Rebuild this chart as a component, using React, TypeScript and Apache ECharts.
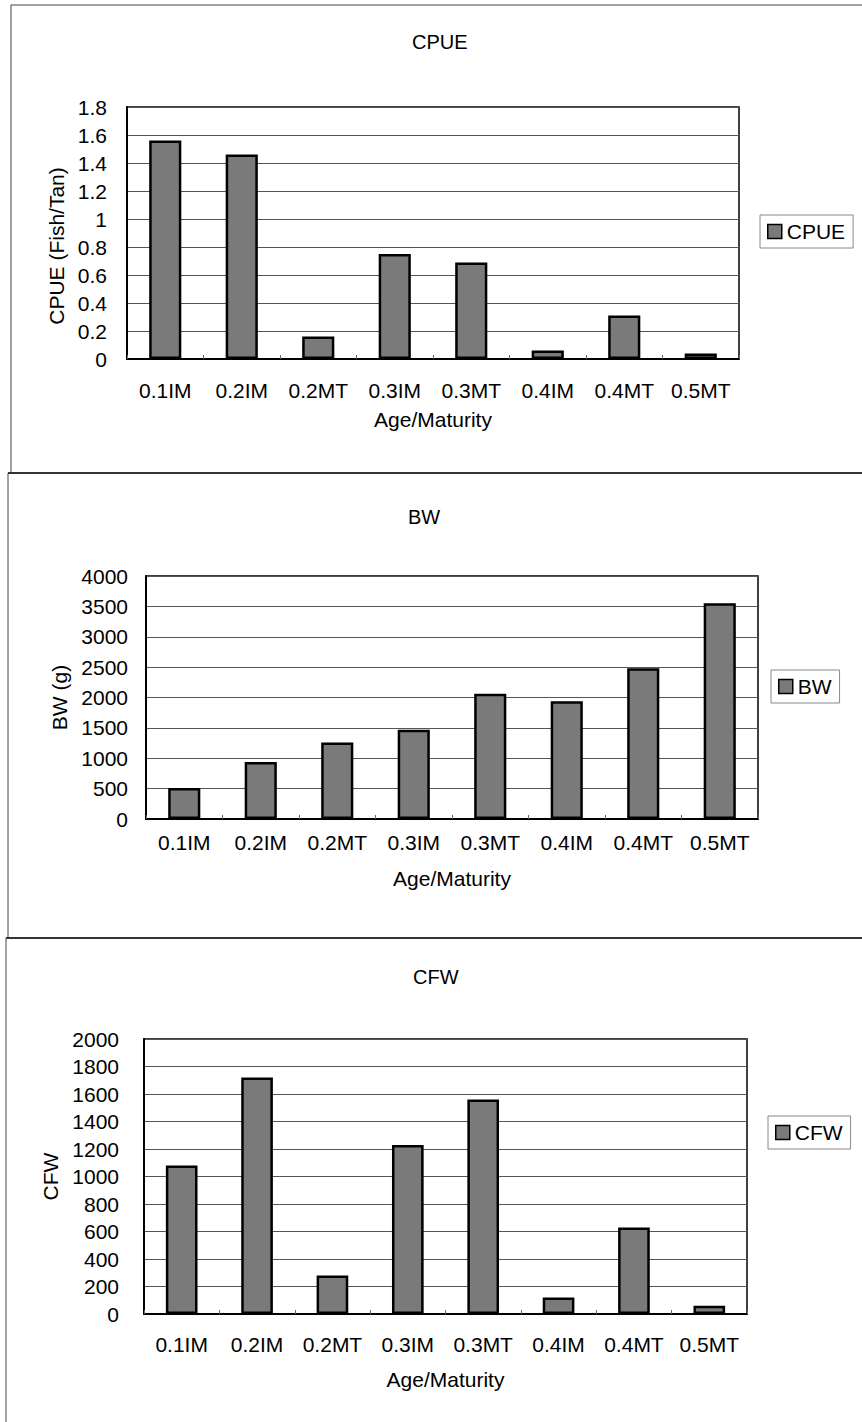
import React, { useEffect, useRef } from "react";
import * as echarts from "echarts";

const categories = ["0.1IM", "0.2IM", "0.2MT", "0.3IM", "0.3MT", "0.4IM", "0.4MT", "0.5MT"];
const cpueValues = [1.56, 1.46, 0.16, 0.75, 0.69, 0.06, 0.31, 0.04];
const bwValues = [510, 940, 1260, 1470, 2060, 1940, 2480, 3550];
const cfwValues = [1080, 1720, 280, 1230, 1560, 120, 630, 60];

const FONT = "Liberation Sans, Arial, sans-serif";

export default function App() {
  const ref = useRef<HTMLDivElement>(null);

  useEffect(() => {
    if (!ref.current) return;
    const chart = echarts.init(ref.current, undefined, { renderer: "svg" });

    const panels = [
      {
        name: "CPUE", yName: "CPUE (Fish/Tan)", data: cpueValues, max: 1.8, interval: 0.2,
        grid: { left: 127, top: 107, width: 612, height: 252 },
        title: { left: 412, top: 32 },
        legend: { left: 760, top: 215 },
        labelMargin: 21, nameGap: 50, yLabelMargin: 20, yNameGap: 60, yNamePad: [0, 26, 0, 0],
      },
      {
        name: "BW", yName: "BW (g)", data: bwValues, max: 4000, interval: 500,
        grid: { left: 146, top: 576, width: 612, height: 243 },
        title: { left: 408, top: 507 },
        legend: { left: 771, top: 670 },
        labelMargin: 13, nameGap: 49, yLabelMargin: 18, yNameGap: 75, yNamePad: [0, 0, 0, 0],
      },
      {
        name: "CFW", yName: "CFW", data: cfwValues, max: 2000, interval: 200,
        grid: { left: 144, top: 1039, width: 603, height: 275 },
        title: { left: 413, top: 967 },
        legend: { left: 768, top: 1116 },
        labelMargin: 20, nameGap: 55, yLabelMargin: 25, yNameGap: 81, yNamePad: [0, 0, 0, 0],
      },
    ];

    const fmt = (v: number) => String(Math.round(v * 1000) / 1000);

    const option: any = {
      animation: false,
      backgroundColor: "#ffffff",
      textStyle: { fontFamily: FONT, color: "#000" },
      title: panels.map((p) => ({
        text: p.name,
        left: p.title.left,
        top: p.title.top,
        padding: 0,
        textStyle: { fontFamily: FONT, fontSize: 20, fontWeight: "normal", color: "#000", lineHeight: 20 },
      })),
      legend: panels.map((p) => ({
        data: [{ name: p.name, icon: "rect" }],
        left: p.legend.left,
        top: p.legend.top,
        orient: "vertical",
        padding: [6, 8, 6, 7],
        borderColor: "#888",
        borderWidth: 1,
        itemWidth: 14,
        itemHeight: 14,
        selectedMode: false,
        textStyle: { fontFamily: FONT, fontSize: 21, color: "#000", lineHeight: 21 },
        itemStyle: { borderColor: "#000", borderWidth: 1.5, color: "#7a7a7a" },
      })),
      grid: panels.map((p) => ({
        ...p.grid,
        show: true,
        borderColor: "#000",
        borderWidth: 1.5,
        backgroundColor: "transparent",
        containLabel: false,
      })),
      xAxis: panels.map((p, i) => ({
        type: "category",
        gridIndex: i,
        data: categories,
        name: "Age/Maturity",
        nameLocation: "middle",
        nameGap: p.nameGap,
        nameTextStyle: { fontFamily: FONT, fontSize: 21, color: "#000", lineHeight: 21 },
        axisLine: { show: true, lineStyle: { color: "#000", width: 2 } },
        axisTick: { show: true, inside: true, length: 4, lineStyle: { color: "#666", width: 1 } },
        axisLabel: { interval: 0, margin: p.labelMargin, fontFamily: FONT, fontSize: 21, color: "#000", lineHeight: 21 },
        splitLine: { show: false },
      })),
      yAxis: panels.map((p, i) => ({
        type: "value",
        gridIndex: i,
        min: 0,
        max: p.max,
        interval: p.interval,
        name: p.yName,
        nameLocation: "middle",
        nameRotate: 90,
        nameGap: p.yNameGap,
        nameTextStyle: { fontFamily: FONT, fontSize: 21, color: "#000", lineHeight: 21, padding: p.yNamePad },
        axisLine: { show: true, lineStyle: { color: "#000", width: 2 } },
        axisTick: { show: false },
        axisLabel: { margin: p.yLabelMargin, fontFamily: FONT, fontSize: 21, color: "#000", lineHeight: 21, formatter: fmt },
        splitLine: { show: true, lineStyle: { color: "#555", width: 1 } },
      })),
      series: panels.map((p, i) => ({
        type: "bar",
        name: p.name,
        xAxisIndex: i,
        yAxisIndex: i,
        data: p.data,
        barWidth: "42%",
        itemStyle: { color: "#7a7a7a", borderColor: "#000", borderWidth: 2.5 },
      })),
      graphic: [
        { type: "line", shape: { x1: 11, y1: 5, x2: 862, y2: 5 }, style: { stroke: "#444", lineWidth: 1 } },
        { type: "line", shape: { x1: 11, y1: 5, x2: 11, y2: 473 }, style: { stroke: "#444", lineWidth: 1 } },
        { type: "line", shape: { x1: 8, y1: 473, x2: 862, y2: 473 }, style: { stroke: "#333", lineWidth: 2 } },
        { type: "line", shape: { x1: 8, y1: 473, x2: 8, y2: 938 }, style: { stroke: "#444", lineWidth: 1 } },
        { type: "line", shape: { x1: 6, y1: 938, x2: 862, y2: 938 }, style: { stroke: "#333", lineWidth: 2 } },
        { type: "line", shape: { x1: 6, y1: 938, x2: 6, y2: 1422 }, style: { stroke: "#444", lineWidth: 1 } },
      ],
    };

    chart.setOption(option);
    return () => chart.dispose();
  }, []);

  return (
    <div
      ref={ref}
      style={{ position: "absolute", left: 0, top: 0, width: 862, height: 1422, background: "#fff" }}
    />
  );
}
